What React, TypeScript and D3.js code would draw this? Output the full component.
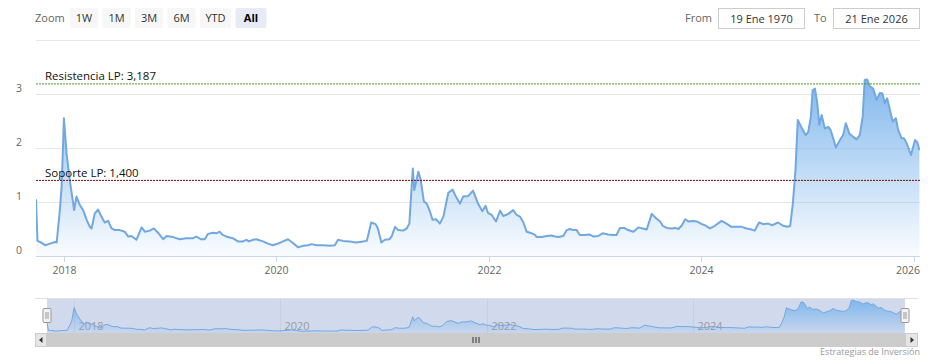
import React from "react";
import * as d3 from "d3";

// ---------- DATA ----------
const dates = [
  "2017-09-27","2017-10-02","2017-10-11","2017-10-28","2017-11-14","2017-12-01","2017-12-07","2017-12-18","2017-12-24",
  "2018-01-01","2018-01-10","2018-01-21","2018-02-05","2018-02-13","2018-02-25","2018-03-08","2018-03-20","2018-03-31",
  "2018-04-06","2018-04-17","2018-04-28","2018-05-10","2018-05-21","2018-06-02","2018-06-14","2018-06-25","2018-07-12",
  "2018-07-29","2018-08-10","2018-08-21","2018-09-07","2018-09-25","2018-10-06","2018-10-23","2018-11-06","2018-11-21",
  "2018-12-08","2018-12-20","2019-01-11","2019-02-03","2019-02-26","2019-03-21","2019-04-01","2019-04-18","2019-04-30",
  "2019-05-11","2019-05-28","2019-06-09","2019-06-20","2019-07-01","2019-07-18","2019-08-04","2019-08-22","2019-09-08",
  "2019-09-20","2019-09-29","2019-10-13","2019-10-24","2019-11-16","2019-12-03","2019-12-20","2020-01-07","2020-01-24",
  "2020-02-10","2020-02-25","2020-03-16","2020-04-02","2020-04-19","2020-05-01","2020-05-18","2020-06-10","2020-07-03",
  "2020-07-20","2020-07-31","2020-08-17","2020-09-09","2020-10-02","2020-10-25","2020-11-07","2020-11-22","2020-12-07",
  "2020-12-15","2020-12-27","2021-01-08","2021-01-23","2021-01-31","2021-02-12","2021-02-23","2021-03-12","2021-03-24",
  "2021-04-02","2021-04-14","2021-04-19","2021-05-03","2021-05-11","2021-05-22","2021-06-01","2021-06-12","2021-06-21",
  "2021-07-03","2021-07-16","2021-07-28","2021-08-14","2021-08-29","2021-09-09","2021-09-23","2021-10-04","2021-10-21",
  "2021-11-07","2021-11-24","2021-12-09","2021-12-20","2021-12-28","2022-01-10","2022-01-25","2022-02-08","2022-02-19",
  "2022-03-08","2022-03-25","2022-04-06","2022-04-17","2022-04-29","2022-05-10","2022-05-28","2022-06-08","2022-06-14",
  "2022-07-01","2022-07-18","2022-08-04","2022-08-16","2022-08-27","2022-09-13","2022-09-25","2022-10-06","2022-10-17",
  "2022-10-29","2022-11-09","2022-11-26","2022-12-11","2022-12-27","2023-01-11","2023-01-26","2023-02-14","2023-03-03",
  "2023-03-15","2023-03-27","2023-04-10","2023-04-24","2023-05-12","2023-05-29","2023-06-13","2023-06-27","2023-07-14",
  "2023-07-29","2023-08-12","2023-08-21","2023-09-04","2023-09-21","2023-10-03","2023-10-14","2023-10-26","2023-11-06",
  "2023-11-17","2023-12-02","2023-12-16","2024-01-02","2024-01-13","2024-01-30","2024-02-16","2024-03-10","2024-03-27",
  "2024-04-13","2024-04-30","2024-05-18","2024-06-04","2024-06-21","2024-07-02","2024-07-17","2024-07-31","2024-08-17",
  "2024-09-01","2024-09-20","2024-10-07","2024-10-24","2024-11-01","2024-11-10","2024-11-19","2024-11-27","2024-12-09",
  "2024-12-24","2025-01-02","2025-01-11","2025-01-17","2025-01-25","2025-02-02","2025-02-09","2025-02-17","2025-02-28",
  "2025-03-12","2025-03-20","2025-03-27","2025-04-07","2025-04-21","2025-05-02","2025-05-11","2025-05-23","2025-06-05",
  "2025-06-17","2025-06-28","2025-07-08","2025-07-15","2025-07-23","2025-08-02","2025-08-13","2025-08-25","2025-09-05",
  "2025-09-14","2025-09-22","2025-09-30","2025-10-10","2025-10-19","2025-10-30","2025-11-07","2025-11-19","2025-11-27",
  "2025-12-06","2025-12-21","2026-01-04","2026-01-12","2026-01-19",
];

const values = [
  1.05,0.28,0.26,0.20,0.23,0.26,0.25,0.85,1.28,
  2.55,1.90,1.41,0.85,1.10,0.94,0.85,0.67,0.54,
  0.51,0.79,0.86,0.73,0.62,0.65,0.51,0.48,0.48,
  0.45,0.36,0.37,0.30,0.53,0.45,0.47,0.51,0.43,
  0.31,0.37,0.35,0.31,0.33,0.33,0.36,0.31,0.31,
  0.41,0.43,0.42,0.45,0.39,0.35,0.33,0.27,0.27,
  0.30,0.27,0.30,0.31,0.27,0.23,0.20,0.23,0.27,
  0.31,0.25,0.16,0.19,0.20,0.22,0.20,0.20,0.19,
  0.20,0.30,0.28,0.27,0.25,0.27,0.28,0.62,0.59,
  0.51,0.25,0.30,0.31,0.36,0.54,0.48,0.47,0.51,
  0.60,1.62,1.22,1.56,1.41,1.01,0.97,0.82,0.67,
  0.68,0.60,0.73,1.17,1.23,1.10,0.97,1.10,1.11,
  1.21,0.97,0.83,0.93,0.80,0.76,0.64,0.84,0.74,
  0.78,0.85,0.76,0.73,0.62,0.45,0.42,0.39,0.35,
  0.35,0.37,0.38,0.36,0.35,0.37,0.48,0.50,0.48,
  0.48,0.39,0.39,0.40,0.36,0.37,0.42,0.40,0.39,
  0.39,0.52,0.52,0.48,0.45,0.53,0.51,0.49,0.78,
  0.70,0.64,0.56,0.52,0.51,0.52,0.50,0.57,0.68,
  0.64,0.65,0.64,0.59,0.57,0.51,0.56,0.65,0.60,
  0.54,0.54,0.54,0.51,0.49,0.47,0.62,0.59,0.60,
  0.57,0.62,0.56,0.54,0.56,0.97,1.59,2.52,2.39,
  2.24,2.30,2.58,3.07,3.10,2.83,2.43,2.61,2.36,
  2.39,2.33,2.21,2.01,2.15,2.24,2.46,2.27,2.21,
  2.16,2.24,2.58,3.26,3.27,3.14,3.10,2.89,3.02,
  3.01,2.83,2.92,2.70,2.49,2.55,2.33,2.18,2.18,
  2.09,1.87,2.15,2.10,1.96,
];

const endDate = "2026-01-21";
const yTicks = [0, 1, 2, 3, 4];
const yLabelTicks = [0, 1, 2, 3];
const xTickYears = [2018, 2020, 2022, 2024, 2026];
const navTickYears = [2018, 2020, 2022, 2024];
const plotLineValues = [3.187, 1.4];
const plotLineLabels = ["Resistencia LP: 3,187", "Soporte LP: 1,400"];
const zoomButtons = ["1W", "1M", "3M", "6M", "YTD", "All"];
const selectedButton = "All";
const fromText = "19 Ene 1970";
const toText = "21 Ene 2026";
const creditsText = "Estrategias de Inversión";

// ---------- LAYOUT / STYLE ----------
const W = 938;
const H = 364;
const FONT = "'Open Sans', 'DejaVu Sans', sans-serif";
const plot = { left: 36, right: 920, top: 40, bottom: 256 };
const nav = { left: 47, right: 905, top: 298, bottom: 333 };
const scroll = { left: 35, right: 918, top: 333, bottom: 347 };
const plotLineColors = ["#4f9a2c", "#7a0a0a"];
const lineColor = "#72a8df";
const areaColor = "#7cb5ec";

const parse = d3.timeParse("%Y-%m-%d");

export default function App() {
  const data = dates.map((d, i) => ({ date: parse(d) as Date, value: values[i] }));
  const x0 = data[0].date;
  const x1 = parse(endDate) as Date;

  const x = d3.scaleTime().domain([x0, x1]).range([plot.left, plot.right]);
  const y = d3.scaleLinear().domain([0, 4]).range([plot.bottom, plot.top]);

  const navMax = Math.ceil((d3.max(values) as number) * 2) / 2;
  const xn = d3.scaleTime().domain([x0, x1]).range([nav.left, nav.right]);
  const yn = d3.scaleLinear().domain([0, navMax]).range([nav.bottom, nav.top]);

  const line = d3.line<any>().x((d) => x(d.date)).y((d) => y(d.value));
  const area = d3.area<any>().x((d) => x(d.date)).y0(y(0)).y1((d) => y(d.value));
  const navLine = d3.line<any>().x((d) => xn(d.date)).y((d) => yn(d.value));
  const navArea = d3.area<any>().x((d) => xn(d.date)).y0(yn(0)).y1((d) => yn(d.value));

  // buttons layout
  let bx = 70;
  const btns = zoomButtons.map((label) => {
    const w = label.length > 2 ? 31 : 28;
    const b = { label, x: bx, w };
    bx += w + 4.5;
    return b;
  });

  const scrollMid = (nav.left + nav.right) / 2;

  return (
    <svg
      width={W}
      height={H}
      style={{ position: "fixed", left: 0, top: 0, display: "block", background: "#fff" }}
      fontFamily={FONT}
    >
      <defs>
        <linearGradient id="areaGrad" x1="0" y1="0" x2="0" y2="1">
          <stop offset="0" stopColor={areaColor} stopOpacity={0.95} />
          <stop offset="1" stopColor={areaColor} stopOpacity={0.04} />
        </linearGradient>
        <linearGradient id="navGrad" x1="0" y1="0" x2="0" y2="1">
          <stop offset="0" stopColor={areaColor} stopOpacity={0.95} />
          <stop offset="1" stopColor={areaColor} stopOpacity={0.1} />
        </linearGradient>
        <clipPath id="plotClip">
          <rect x={plot.left} y={plot.top - 5} width={plot.right - plot.left} height={plot.bottom - plot.top + 5} />
        </clipPath>
      </defs>

      <rect x={0} y={0} width={W} height={H} fill="#fff" />

      {/* Range selector */}
      <text x={35} y={22} fontSize={11} fill="#666">Zoom</text>
      {btns.map((b) => (
        <g key={b.label}>
          <rect
            x={b.x}
            y={8}
            width={b.w}
            height={20}
            rx={2}
            fill={b.label === selectedButton ? "#e6ebf5" : "#f7f7f7"}
          />
          <text
            x={b.x + b.w / 2}
            y={22}
            fontSize={11}
            textAnchor="middle"
            fill={b.label === selectedButton ? "#000" : "#333"}
            fontWeight={b.label === selectedButton ? "bold" : "normal"}
          >
            {b.label}
          </text>
        </g>
      ))}

      <text x={685} y={22} fontSize={11} fill="#666">From</text>
      <rect x={718.5} y={8.5} width={86} height={20} fill="#fff" stroke="#cccccc" />
      <text x={761.5} y={22.5} fontSize={11} fill="#333" textAnchor="middle">{fromText}</text>
      <text x={814} y={22} fontSize={11} fill="#666">To</text>
      <rect x={833.5} y={8.5} width={86} height={20} fill="#fff" stroke="#cccccc" />
      <text x={876.5} y={22.5} fontSize={11} fill="#333" textAnchor="middle">{toText}</text>

      {/* Grid */}
      {yTicks.map((t) => (
        <line
          key={t}
          x1={plot.left}
          x2={plot.right}
          y1={Math.round(y(t)) + 0.5}
          y2={Math.round(y(t)) + 0.5}
          stroke={t === 0 ? "#ccd6eb" : "#e6e6e6"}
          strokeWidth={1}
        />
      ))}
      {yLabelTicks.map((t) => (
        <text key={t} x={22} y={y(t) - 2} fontSize={10.5} fill="#666" textAnchor="end">
          {t}
        </text>
      ))}

      {/* X axis ticks */}
      {xTickYears.map((yr) => {
        const tx = Math.round(x(new Date(yr, 0, 1))) + 0.5;
        const lx = Math.min(tx, plot.right - 12);
        return (
          <g key={yr}>
            <line x1={tx} x2={tx} y1={plot.bottom} y2={plot.bottom + 6} stroke="#ccd6eb" />
            <text x={lx} y={274} fontSize={10.5} fill="#666" textAnchor="middle">
              {yr}
            </text>
          </g>
        );
      })}

      {/* Series */}
      <g clipPath="url(#plotClip)">
        <path d={area(data) as string} fill="url(#areaGrad)" />
        <path d={line(data) as string} fill="none" stroke={lineColor} strokeWidth={2} strokeLinejoin="round" />
      </g>

      {/* Plot lines */}
      {plotLineValues.map((v, i) => (
        <g key={i}>
          <line
            x1={plot.left}
            x2={plot.right}
            y1={y(v)}
            y2={y(v)}
            stroke={plotLineColors[i]}
            strokeWidth={1}
            strokeDasharray="2,1"
          />
          <text x={plot.left + 9} y={y(v) - 3.5} fontSize={11.5} fill="#111">
            {plotLineLabels[i]}
          </text>
        </g>
      ))}

      {/* Navigator */}
      <rect x={nav.left} y={nav.top} width={nav.right - nav.left} height={nav.bottom - nav.top} fill="rgba(102,133,194,0.3)" />
      {navTickYears.map((yr) => {
        const tx = Math.round(xn(new Date(yr, 0, 1))) + 0.5;
        return (
          <g key={yr}>
            <line x1={tx} x2={tx} y1={nav.top} y2={nav.bottom} stroke="#c8cfdf" />
            <text x={tx + 4} y={330} fontSize={11} fill="#999">
              {yr}
            </text>
          </g>
        );
      })}
      <path d={navArea(data) as string} fill="url(#navGrad)" />
      <path d={navLine(data) as string} fill="none" stroke={lineColor} strokeWidth={1} />
      <line x1={scroll.left} x2={scroll.right} y1={nav.top + 0.5} y2={nav.top + 0.5} stroke="#e0e0e0" />
      {/* handles */}
      {[nav.left, nav.right].map((hx, i) => (
        <g key={i}>
          <rect x={hx - 4} y={308.5} width={8} height={14} rx={1} fill="#f2f2f2" stroke="#999" strokeWidth={1} />
          <line x1={hx - 1} x2={hx - 1} y1={312} y2={319} stroke="#999" />
          <line x1={hx + 1} x2={hx + 1} y1={312} y2={319} stroke="#999" />
        </g>
      ))}

      {/* Scrollbar */}
      <rect x={scroll.left} y={scroll.top} width={scroll.right - scroll.left} height={scroll.bottom - scroll.top} fill="#f2f2f2" />
      <rect x={nav.left} y={scroll.top} width={nav.right - nav.left} height={scroll.bottom - scroll.top} fill="#cccccc" />
      {[-3, 0, 3].map((o) => (
        <line key={o} x1={scrollMid + o} x2={scrollMid + o} y1={scroll.top + 4} y2={scroll.bottom - 4} stroke="#333" />
      ))}
      <rect x={scroll.left + 0.5} y={scroll.top + 0.5} width={nav.left - scroll.left - 1} height={scroll.bottom - scroll.top - 1} fill="#e6e6e6" stroke="#cccccc" />
      <path d={`M${scroll.left + 7.5},${scroll.top + 4} L${scroll.left + 4},${scroll.top + 7} L${scroll.left + 7.5},${scroll.top + 10} Z`} fill="#333" />
      <rect x={nav.right + 0.5} y={scroll.top + 0.5} width={scroll.right - nav.right - 1} height={scroll.bottom - scroll.top - 1} fill="#e6e6e6" stroke="#cccccc" />
      <path d={`M${nav.right + 5.5},${scroll.top + 4} L${nav.right + 9},${scroll.top + 7} L${nav.right + 5.5},${scroll.top + 10} Z`} fill="#333" />

      {/* Credits */}
      <text x={920} y={355} fontSize={9} fill="#999" textAnchor="end">
        {creditsText}
      </text>
    </svg>
  );
}
